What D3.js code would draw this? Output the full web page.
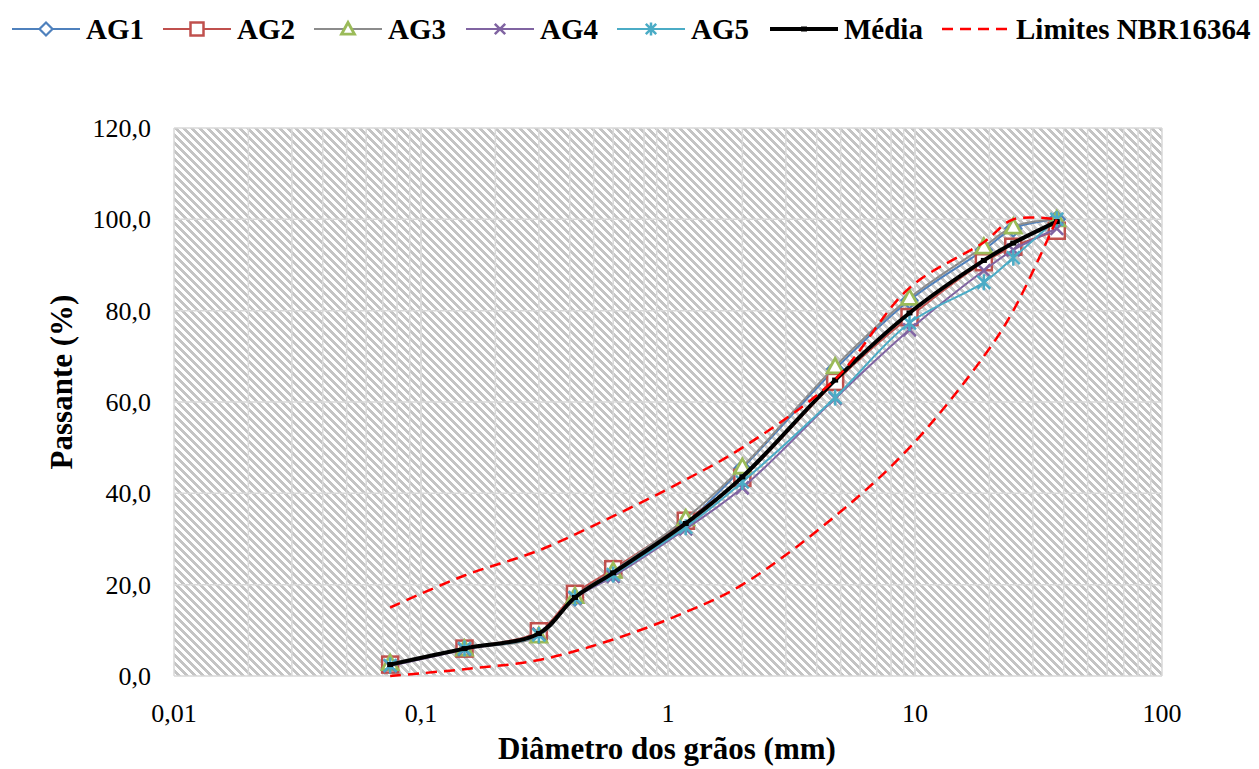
<!DOCTYPE html>
<html>
<head>
<meta charset="utf-8">
<script src="https://cdn.jsdelivr.net/npm/d3@7"></script>
<style>
  body { margin: 0; background: #fff; }
  svg { display: block; font-family: "Liberation Serif", "Times New Roman", serif; }
</style>
</head>
<body>
<svg id="chart" width="1259" height="769"></svg>
<script>
// Sieve openings (mm) and cumulative passing (%) per sample
const sieves = [0.075, 0.15, 0.3, 0.42, 0.6, 1.18, 2.0, 4.75, 9.5, 19, 25, 37.5];
const ag1 = [2.5, 6.0, 9.0, 17.2, 22.5, 33.5, 45.5, 67.2, 82.3, 93.3, 98.0, 100.0];
const ag2 = [2.5, 6.0, 9.8, 18.0, 23.4, 34.0, 43.4, 64.4, 78.6, 90.6, 94.0, 97.5];
const ag3 = [2.8, 6.0, 8.8, 17.5, 23.0, 34.5, 45.8, 67.8, 82.8, 94.0, 98.4, 100.0];
const ag4 = [2.2, 5.8, 9.2, 17.0, 21.8, 32.2, 41.2, 60.8, 75.8, 88.8, 93.3, 98.0];
const ag5 = [2.3, 6.0, 9.0, 17.2, 22.2, 32.6, 42.5, 61.0, 77.3, 86.2, 91.6, 100.0];
const media = [2.5, 6.0, 9.3, 17.2, 22.6, 33.4, 43.6, 64.8, 79.5, 91.0, 94.8, 99.5];

// NBR 16364 grading envelope
const limSieves = [0.075, 0.15, 0.3, 0.6, 1.18, 2.0, 4.75, 9.5, 19, 25, 37.5];
const limUpper = [15, 22, 27.5, 35, 43, 50, 65, 85, 95, 100, 100];
const limLower = [0, 1.5, 3.5, 8, 14, 20, 35, 50, 70, 80, 100];

const xTicks = [0.01, 0.1, 1, 10, 100];
const yTicks = [0, 20, 40, 60, 80, 100, 120];

const series = [
  { name: "AG1", values: ag1, line: "#4F81BD", mark: "#4F81BD", symbol: "diamond" },
  { name: "AG2", values: ag2, line: "#C0504D", mark: "#C0504D", symbol: "square" },
  { name: "AG3", values: ag3, line: "#8C8C8C", mark: "#9BBB59", symbol: "triangle" },
  { name: "AG4", values: ag4, line: "#8064A2", mark: "#8064A2", symbol: "x" },
  { name: "AG5", values: ag5, line: "#4BACC6", mark: "#4BACC6", symbol: "star" }
];

const svg = d3.select("#chart");
const margin = { left: 174, right: 1162, top: 128, bottom: 676 };

const x = d3.scaleLog().domain([0.01, 100]).range([margin.left, margin.right]);
const y = d3.scaleLinear().domain([0, 120]).range([margin.bottom, margin.top]);

// hatch pattern (wide downward diagonal)
const defs = svg.append("defs");
const pat = defs.append("pattern")
  .attr("id", "hatch")
  .attr("patternUnits", "userSpaceOnUse")
  .attr("width", 8).attr("height", 8)
  .attr("x", margin.left).attr("y", margin.top);
pat.append("rect").attr("width", 8).attr("height", 8).attr("fill", "#fff");
for (let r = 0; r < 8; r++) {
  for (let k = 0; k < 4; k++) {
    pat.append("rect")
      .attr("x", (r + k) % 8).attr("y", r)
      .attr("width", 1).attr("height", 1)
      .attr("fill", "#c4c4c4");
  }
}

svg.append("rect")
  .attr("x", margin.left).attr("y", margin.top)
  .attr("width", margin.right - margin.left)
  .attr("height", margin.bottom - margin.top)
  .attr("fill", "url(#hatch)");

// gridlines
const grid = svg.append("g").attr("stroke", "#d9d9d9").attr("stroke-width", 1.5);
const minor = [];
for (let d = 0.01; d < 100; d *= 10) {
  for (let m = 1; m <= 10; m++) minor.push(+(d * m).toPrecision(3));
}
grid.selectAll("line.v").data(minor).enter().append("line")
  .attr("x1", d => x(d)).attr("x2", d => x(d))
  .attr("y1", margin.top).attr("y2", margin.bottom);
grid.selectAll("line.h").data(yTicks).enter().append("line")
  .attr("x1", margin.left).attr("x2", margin.right)
  .attr("y1", d => y(d)).attr("y2", d => y(d));

// axes labels
const fmtY = d3.format(".1f");
svg.append("g").selectAll("text").data(yTicks).enter().append("text")
  .attr("x", margin.left - 23).attr("y", d => y(d))
  .attr("dy", "0.35em").attr("text-anchor", "end")
  .attr("font-size", 26).attr("fill", "#000")
  .text(d => fmtY(d).replace(".", ","));

svg.append("g").selectAll("text").data(xTicks).enter().append("text")
  .attr("x", d => x(d)).attr("y", margin.bottom + 46)
  .attr("text-anchor", "middle")
  .attr("font-size", 26).attr("fill", "#000")
  .text(d => String(d).replace(".", ","));

svg.append("text")
  .attr("transform", `translate(72, ${(margin.top + margin.bottom) / 2 - 20}) rotate(-90)`)
  .attr("text-anchor", "middle")
  .attr("font-size", 31).attr("font-weight", "bold")
  .text("Passante (%)");

svg.append("text")
  .attr("x", 667).attr("y", 759)
  .attr("text-anchor", "middle")
  .attr("font-size", 31).attr("font-weight", "bold")
  .text("Diâmetro dos grãos (mm)");

// marker drawing
function marker(g, type, color, s) {
  const h = s / 2;
  if (type === "diamond") {
    g.append("path").attr("d", `M0,${-h}L${h},0L0,${h}L${-h},0Z`)
      .attr("fill", "#fff").attr("stroke", color).attr("stroke-width", 2.2);
  } else if (type === "square") {
    g.append("rect").attr("x", -h).attr("y", -h).attr("width", s).attr("height", s)
      .attr("fill", "#fff").attr("stroke", color).attr("stroke-width", 2.5);
  } else if (type === "triangle") {
    g.append("path").attr("d", `M0,${-h}L${h},${h * 0.8}L${-h},${h * 0.8}Z`)
      .attr("fill", "#fff").attr("stroke", color).attr("stroke-width", 2.8);
  } else if (type === "x") {
    const a = h * 0.8;
    g.append("path").attr("d", `M${-a},${-a}L${a},${a}M${-a},${a}L${a},${-a}`)
      .attr("fill", "none").attr("stroke", color).attr("stroke-width", 2.5);
  } else if (type === "star") {
    const a = h * 0.8;
    g.append("path").attr("d", `M${-a},${-a}L${a},${a}M${-a},${a}L${a},${-a}M0,${-h}L0,${h}`)
      .attr("fill", "none").attr("stroke", color).attr("stroke-width", 2.5);
  } else if (type === "media") {
    g.append("rect").attr("x", -3).attr("y", -2.5).attr("width", 6).attr("height", 5)
      .attr("fill", "#000");
  }
}

const line = d3.line()
  .x(d => x(d[0])).y(d => y(d[1]))
  .curve(d3.curveCatmullRom.alpha(0.5));

const plot = svg.append("g");

series.forEach(s => {
  const pts = sieves.map((v, i) => [v, s.values[i]]);
  plot.append("path").datum(pts)
    .attr("d", line).attr("fill", "none")
    .attr("stroke", s.line).attr("stroke-width", 2);
  pts.forEach(p => {
    const g = plot.append("g").attr("transform", `translate(${x(p[0])},${y(p[1])})`);
    marker(g, s.symbol, s.mark, 16);
  });
});

const mediaPts = sieves.map((v, i) => [v, media[i]]);
plot.append("path").datum(mediaPts)
  .attr("d", line).attr("fill", "none")
  .attr("stroke", "#000").attr("stroke-width", 4);
mediaPts.forEach(p => {
  marker(plot.append("g").attr("transform", `translate(${x(p[0])},${y(p[1])})`), "media", "#000", 6);
});

[limUpper, limLower].forEach(vals => {
  plot.append("path").datum(limSieves.map((v, i) => [v, vals[i]]))
    .attr("d", line).attr("fill", "none")
    .attr("stroke", "#FF0000").attr("stroke-width", 2.5)
    .attr("stroke-dasharray", "11,7");
});

// legend
const legendItems = [
  { label: "AG1", x0: 12, color: "#4F81BD", mark: "#4F81BD", symbol: "diamond" },
  { label: "AG2", x0: 163, color: "#C0504D", mark: "#C0504D", symbol: "square" },
  { label: "AG3", x0: 314, color: "#8C8C8C", mark: "#9BBB59", symbol: "triangle" },
  { label: "AG4", x0: 466, color: "#8064A2", mark: "#8064A2", symbol: "x" },
  { label: "AG5", x0: 617, color: "#4BACC6", mark: "#4BACC6", symbol: "star" },
  { label: "Média", x0: 770, color: "#000", mark: "#000", symbol: "media", width: 4 },
  { label: "Limites NBR16364", x0: 942, color: "#FF0000", symbol: null, dash: "11,7", width: 2.5 }
];
const legend = svg.append("g").attr("transform", "translate(0, 29)");
legendItems.forEach(it => {
  const g = legend.append("g");
  g.append("line")
    .attr("x1", it.x0).attr("x2", it.x0 + 68)
    .attr("stroke", it.color).attr("stroke-width", it.width || 2)
    .attr("stroke-dasharray", it.dash || null);
  if (it.symbol) {
    marker(g.append("g").attr("transform", `translate(${it.x0 + 34},0)`), it.symbol, it.mark, 13);
  }
  g.append("text")
    .attr("x", it.x0 + 74).attr("dy", "0.35em")
    .attr("font-size", 29).attr("font-weight", "bold")
    .text(it.label);
});
</script>
</body>
</html>
